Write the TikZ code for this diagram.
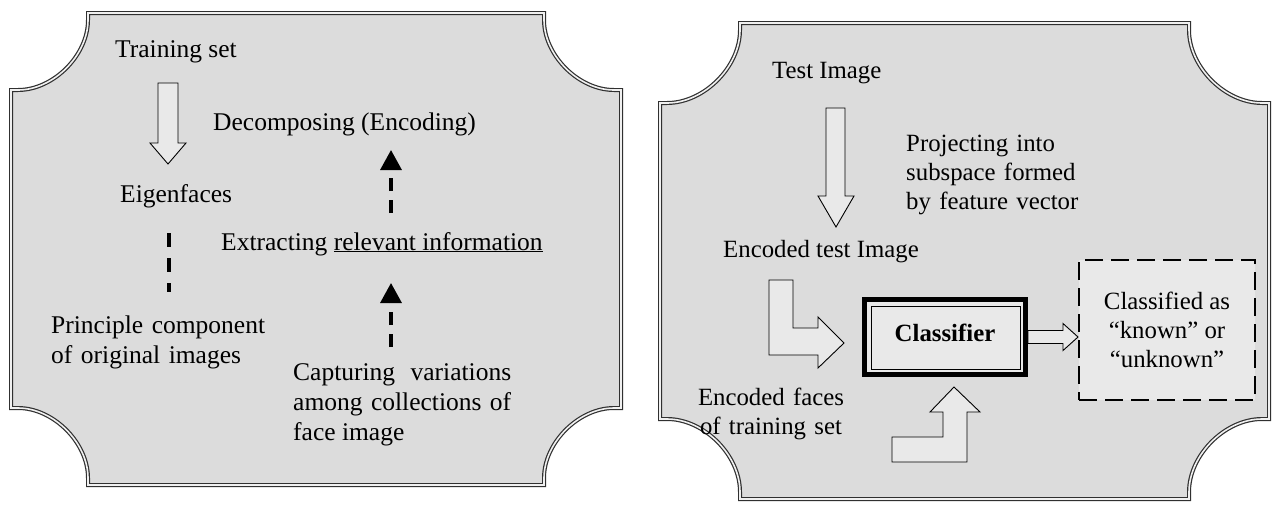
\documentclass[tikz,border=0pt]{standalone}
\usepackage{fontspec}
\setmainfont{Liberation Serif}
\usetikzlibrary{arrows.meta}
\usetikzlibrary{calc}
\definecolor{panel}{HTML}{DCDCDC}
\definecolor{light}{HTML}{E9E9E9}
\definecolor{edge}{HTML}{303030}

% panel with scooped corners: radius, left, top, right, bottom
\newcommand{\plaque}[5]{%
  \draw[frame] (#2+#1,#3) -- (#4-#1,#3) -- (#4-#1,#3+7)
    .. controls (#4-#1,#3+0.55*#1) and (#4-0.55*#1,#3+#1) .. (#4-7,#3+#1) -- (#4,#3+#1)
    -- (#4,#5-#1) -- (#4-7,#5-#1)
    .. controls (#4-0.55*#1,#5-#1) and (#4-#1,#5-0.55*#1) .. (#4-#1,#5-7) -- (#4-#1,#5)
    -- (#2+#1,#5) -- (#2+#1,#5-7)
    .. controls (#2+#1,#5-0.55*#1) and (#2+0.55*#1,#5-#1) .. (#2+7,#5-#1) -- (#2,#5-#1)
    -- (#2,#3+#1) -- (#2+7,#3+#1)
    .. controls (#2+0.55*#1,#3+#1) and (#2+#1,#3+0.55*#1) .. (#2+#1,#3+7) -- cycle;}

\begin{document}
\begin{tikzpicture}[x=1pt, y=-1pt,
    frame/.style={draw=edge, line width=1.2pt, double=white!94!black, double distance=1.6pt, fill=panel},
    blockarrow/.style={draw=black, line width=0.9pt, fill=light, line join=miter},
    dashln/.style={line width=3.3pt, dash pattern=on 13pt off 9pt},
    tip/.style={-{Triangle[length=20pt, width=21pt]}},
    ltxt/.style={inner sep=0pt, font=\fontsize{25.5}{30}\selectfont},
    rtxt/.style={inner sep=0pt, font=\fontsize{24.8}{29}\selectfont}]
\useasboundingbox (0,0) rectangle (1274,504);

\plaque{77}{11}{13}{621}{485}
\plaque{80}{660}{23}{1269}{499}

% left panel
\node[ltxt, anchor=base west] (train) at (115,57) {Training set};
\node[ltxt, anchor=base west] (decomp) at (213,130) {Decomposing (Encoding)};
\node[ltxt, anchor=base west] (eigen) at (120,202) {Eigenfaces};
\node[ltxt, anchor=base west] (extract) at (221,250) {Extracting \underline{relevant information}};
\node[ltxt, anchor=base west, text width=240pt, align=left] (princ) at (51,333) {Principle component\\of original images};
\node[ltxt, anchor=base west, text width=218pt, align=justify] (capt) at (293,380) {Capturing variations\linebreak among collections of\linebreak face image};

\coordinate (a1) at (158,83);
\draw[blockarrow] (a1) -- ++(20,0) -- ++(0,60) -- ++(8,0) -- ++(-18,21) -- ++(-18,-21) -- ++(8,0) -- cycle;

\coordinate (v1) at (169,233);
\coordinate (v2) at (169,292);
\coordinate (u1) at (391,213);
\coordinate (u2) at (391,150);
\coordinate (u3) at (391,347);
\coordinate (u4) at (391,283);
\draw[dashln, dash pattern=on 14pt off 11pt] (v1) -- (v2);
\draw[dashln, tip] (u1) -- (u2);
\draw[dashln, tip] (u3) -- (u4);

% right panel
\node[rtxt, anchor=base west] (test) at (772,78) {Test Image};
\node[rtxt, anchor=base west, text width=190pt, align=left] (proj) at (906,151) {Projecting into\\subspace formed\\by feature vector};
\node[rtxt, anchor=base west] (enc) at (723,257) {Encoded test Image};
\node[rtxt, anchor=base, text width=160pt, align=center] (encf) at (771,405) {Encoded faces\\of training set};

\node[rtxt, font=\fontsize{24.8}{29}\selectfont\bfseries, draw=black, line width=5pt, fill=light,
      minimum width=161pt, minimum height=75pt, text height=17pt, text depth=8pt] (clf) at (945,337) {Classifier};
\draw[line width=1pt] ($(clf.north west)+(9,9)$) rectangle ($(clf.south east)+(-8,-8)$);

\node[rtxt, align=center, draw=black, line width=2.2pt, dash pattern=on 18pt off 8pt, fill=light,
      minimum width=176pt, minimum height=140pt] (res) at (1167,330) {Classified as\\“known” or\\“unknown”};

\coordinate (a2) at (826,108);
\draw[blockarrow] (a2) -- ++(19,0) -- ++(0,88) -- ++(9,0) -- ++(-18,31) -- ++(-18,-31) -- ++(8,0) -- cycle;
\coordinate (l1) at (769,280);
\draw[blockarrow] (l1) -- ++(24,0) -- ++(0,48) -- ++(25,0) -- ++(0,-11) -- ++(26,26) -- ++(-26,25) -- ++(0,-13) -- ++(-49,0) -- cycle;
\coordinate (l2) at (892,462);
\draw[blockarrow] (l2) -- ++(0,-25) -- ++(51,0) -- ++(0,-25) -- ++(-13,0) -- ++(24,-25) -- ++(26,25) -- ++(-13,0) -- ++(0,50) -- cycle;
\draw[blockarrow] (clf.east) ++(0,-6.5) -- ++(35,0) -- ++(0,-7) -- ++(15,13.5) -- ++(-15,13.5) -- ++(0,-7) -- ++(-35,0) -- cycle;
\end{tikzpicture}
\end{document}
